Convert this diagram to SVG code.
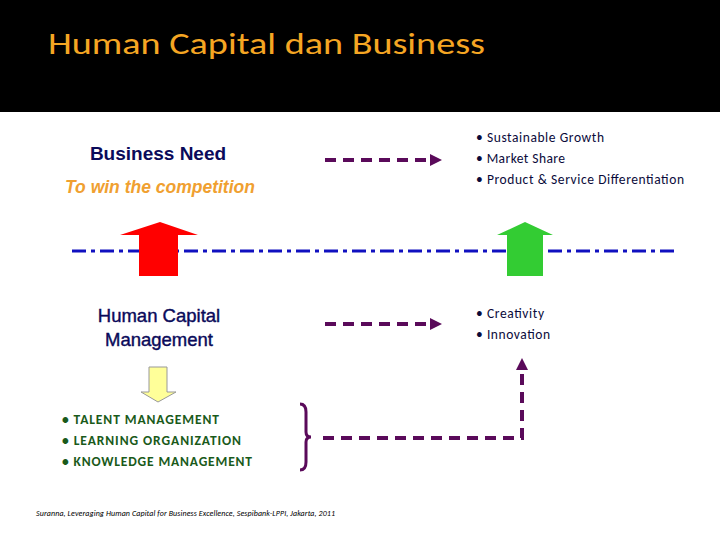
<svg xmlns="http://www.w3.org/2000/svg" width="720" height="540" viewBox="0 0 720 540">
<style>
.c{font-family:Calibri,Carlito,"Open Sans",sans-serif}
.d{stroke:#5a0a5a;stroke-width:4;fill:none;stroke-dasharray:11 7}
.b{font-size:13.5px;fill:#0a0a3a}
.g{font-size:13.5px;fill:#1a5a1a;font-weight:bold}
</style>
<defs><marker id="ah" markerWidth="4" markerHeight="4" refX="2" refY="2" orient="auto" markerUnits="strokeWidth"><path d="M0,0.5 L3,2 L0,3.5Z" fill="#5a0a5a"/></marker></defs>
<rect width="720" height="540" fill="#fff"/>
<rect width="720" height="112" fill="#000"/>
<text x="48" y="54" class="c" font-size="31" fill="#f5a623" textLength="437" lengthAdjust="spacingAndGlyphs">Human Capital dan Business</text>
<g id="business-need">
<text x="158" y="160" text-anchor="middle" font-family="Liberation Sans,Arial,sans-serif" font-weight="bold" font-size="19" fill="#0a0a5a">Business Need</text>
<text x="160" y="193" text-anchor="middle" font-family="Liberation Sans,Arial,sans-serif" font-weight="bold" font-style="italic" font-size="17.5" fill="#f0a030">To win the competition</text>
</g>
<g id="hcm"><text x="159" y="322" text-anchor="middle" font-family="Liberation Sans,Arial,sans-serif" font-size="18.5" fill="#0a0a5a" stroke="#0a0a5a" stroke-width="0.4"><tspan x="159">Human Capital</tspan><tspan x="159" dy="24">Management</tspan></text></g>
<g id="goals"><text class="c b"><tspan x="476" y="142" textLength="128">• Sustainable Growth</tspan><tspan x="476" y="163" textLength="89">• Market Share</tspan><tspan x="476" y="184" textLength="208">• Product &amp; Service Differentiation</tspan></text></g>
<g id="outcomes"><text class="c b"><tspan x="476" y="318" textLength="68">• Creativity</tspan><tspan x="476" y="339" textLength="74">• Innovation</tspan></text></g>
<g id="programs"><text class="c g"><tspan x="62" y="424" textLength="157">• TALENT MANAGEMENT</tspan><tspan x="62" y="445" textLength="179">• LEARNING ORGANIZATION</tspan><tspan x="62" y="466" textLength="190">• KNOWLEDGE MANAGEMENT</tspan></text></g>
<text x="36" y="516" class="c" font-size="8" font-style="italic" fill="#000" textLength="299">Suranna, Leveraging Human Capital for Business Excellence, Sespibank-LPPI, Jakarta, 2011</text>
<line x1="72" y1="251" x2="676" y2="251" stroke="#1010c0" stroke-width="3" stroke-dasharray="14 5 4 5"/>
<polygon points="160,222 198,235 178,235 178,276 139,276 139,235 120,235" fill="#ff0000"/>
<polygon points="525,222 553,235 543,235 543,276 507,276 507,235 497,235" fill="#33cc33"/>
<polygon points="149,367 167,367 167,392 176,392 158,402 141,392 149,392" fill="#ffff99" stroke="#999" stroke-width="1"/>
<g id="connectors">
<path class="d" d="M325,160 H438" marker-end="url(#ah)"/>
<path class="d" d="M325,324 H438" marker-end="url(#ah)"/>
<path d="M300,404 Q306,404 306,412 V432 Q306,437 311,437 Q306,437 306,442 V462 Q306,470 300,470" stroke="#5a0a5a" stroke-width="3" fill="none"/>
<path class="d" d="M323,438 H522 V362" marker-end="url(#ah)"/>
</g>
</svg>
